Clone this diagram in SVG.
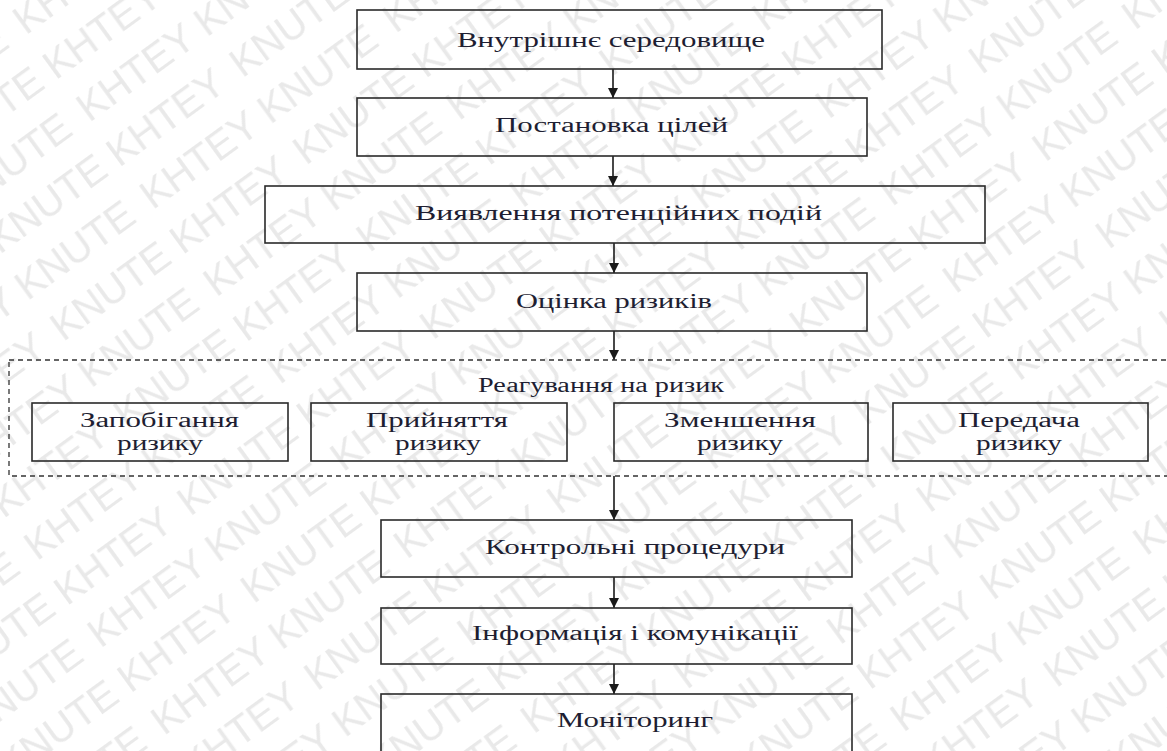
<svg xmlns="http://www.w3.org/2000/svg" width="1167" height="751" viewBox="0 0 1167 751">
<style>
.box{fill:none;stroke:#2a2a2a;stroke-width:1.6}
.dash{fill:none;stroke:#333;stroke-width:1.3;stroke-dasharray:5 4}
.lbl{font-family:"Liberation Serif","Times New Roman",serif;font-size:20px;fill:#1e1e32}
.wm{font-family:"Liberation Sans",Arial,sans-serif;font-size:40px;fill:#e9e9e9}
.arr{stroke:#1a1a1a;stroke-width:1.6;fill:none;marker-end:url(#ah)}
</style>
<defs>
<marker id="ah" viewBox="0 0 10 10" refX="10" refY="5" markerWidth="10" markerHeight="10" markerUnits="userSpaceOnUse" orient="auto">
<path d="M0,0 L10,5 L0,10 z" fill="#1a1a1a"/>
</marker>
<pattern id="wmp" patternUnits="userSpaceOnUse" width="300" height="108" patternTransform="rotate(-36)">
<text class="wm" x="0" y="44" textLength="282" lengthAdjust="spacingAndGlyphs">KHTEY KNUTE</text>
<text class="wm" x="-300" y="44" textLength="282" lengthAdjust="spacingAndGlyphs">KHTEY KNUTE</text>
<text class="wm" x="150" y="98" textLength="282" lengthAdjust="spacingAndGlyphs">KNUTE KHTEY</text>
<text class="wm" x="-150" y="98" textLength="282" lengthAdjust="spacingAndGlyphs">KNUTE KHTEY</text>
</pattern>
</defs>
<rect x="0" y="0" width="1167" height="751" fill="#ffffff"/>
<rect x="0" y="0" width="1167" height="751" fill="url(#wmp)"/>

<g id="connectors">
<line class="arr" x1="613" y1="69" x2="613" y2="98"/>
<line class="arr" x1="613" y1="156" x2="613" y2="186"/>
<line class="arr" x1="614" y1="243" x2="614" y2="273"/>
<line class="arr" x1="614" y1="331" x2="614" y2="360"/>
<line class="arr" x1="614" y1="476" x2="614" y2="520"/>
<line class="arr" x1="614" y1="577" x2="614" y2="608"/>
<line class="arr" x1="614" y1="664" x2="614" y2="694"/>
</g>

<g id="n1">
<rect class="box" x="357" y="10" width="525" height="59"/>
<text class="lbl" x="457" y="47" textLength="308" lengthAdjust="spacingAndGlyphs">Внутрішнє середовище</text>
</g>
<g id="n2">
<rect class="box" x="357" y="98" width="510" height="58"/>
<text class="lbl" x="495" y="132" textLength="233" lengthAdjust="spacingAndGlyphs">Постановка цілей</text>
</g>
<g id="n3">
<rect class="box" x="265" y="186" width="720" height="57"/>
<text class="lbl" x="415" y="220" textLength="407" lengthAdjust="spacingAndGlyphs">Виявлення потенційних подій</text>
</g>
<g id="n4">
<rect class="box" x="357" y="273" width="510" height="58"/>
<text class="lbl" x="516" y="308" textLength="196" lengthAdjust="spacingAndGlyphs">Оцінка ризиків</text>
</g>

<g id="group-response">
<rect class="dash" x="9" y="360" width="1170" height="116"/>
<text class="lbl" x="478" y="392" textLength="246" lengthAdjust="spacingAndGlyphs">Реагування на ризик</text>
</g>
<g id="r1">
<rect class="box" x="32" y="403" width="256" height="58"/>
<text class="lbl" x="80" y="427" textLength="159" lengthAdjust="spacingAndGlyphs">Запобігання</text>
<text class="lbl" x="117" y="450" textLength="86" lengthAdjust="spacingAndGlyphs">ризику</text>
</g>
<g id="r2">
<rect class="box" x="311" y="403" width="256" height="58"/>
<text class="lbl" x="366" y="427" textLength="142" lengthAdjust="spacingAndGlyphs">Прийняття</text>
<text class="lbl" x="395" y="450" textLength="86" lengthAdjust="spacingAndGlyphs">ризику</text>
</g>
<g id="r3">
<rect class="box" x="614" y="403" width="254" height="58"/>
<text class="lbl" x="664" y="427" textLength="152" lengthAdjust="spacingAndGlyphs">Зменшення</text>
<text class="lbl" x="697" y="450" textLength="86" lengthAdjust="spacingAndGlyphs">ризику</text>
</g>
<g id="r4">
<rect class="box" x="893" y="403" width="255" height="58"/>
<text class="lbl" x="958" y="427" textLength="122" lengthAdjust="spacingAndGlyphs">Передача</text>
<text class="lbl" x="976" y="450" textLength="86" lengthAdjust="spacingAndGlyphs">ризику</text>
</g>

<g id="n7">
<rect class="box" x="381" y="520" width="471" height="57"/>
<text class="lbl" x="485" y="554" textLength="300" lengthAdjust="spacingAndGlyphs">Контрольні процедури</text>
</g>
<g id="n8">
<rect class="box" x="381" y="608" width="471" height="56"/>
<text class="lbl" x="472" y="640" textLength="326" lengthAdjust="spacingAndGlyphs">Інформація і комунікації</text>
</g>
<g id="n9">
<rect class="box" x="381" y="694" width="471" height="70"/>
<text class="lbl" x="557" y="727" textLength="156" lengthAdjust="spacingAndGlyphs">Моніторинг</text>
</g>
</svg>
